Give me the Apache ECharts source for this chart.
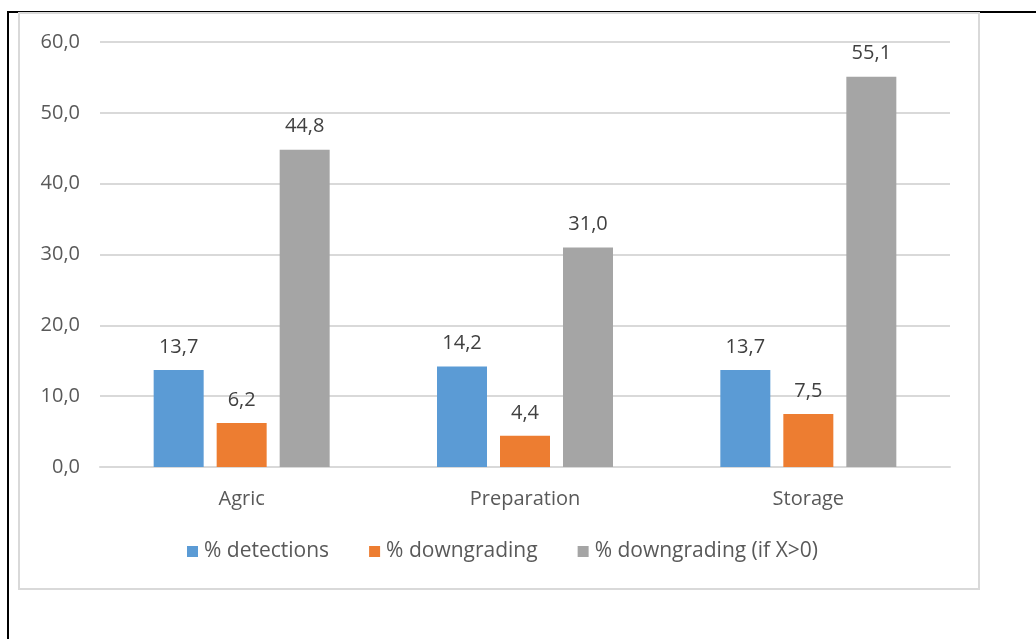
<!DOCTYPE html>
<html><head><meta charset="utf-8">
<script src="https://cdn.jsdelivr.net/npm/echarts@6/dist/echarts.min.js"></script>
<style>html,body{margin:0;padding:0;background:#fff}#c{width:1036px;height:639px}</style>
</head><body><div id="c"></div>
<script>
const categories = ['Agric', 'Preparation', 'Storage'];
const seriesNames = ['% detections', '% downgrading', '% downgrading (if X>0)'];
const detections = [13.7, 14.2, 13.7];
const downgrading = [6.2, 4.4, 7.5];
const downgradingIfX = [44.8, 31.0, 55.1];
const yTicks = [0, 10, 20, 30, 40, 50, 60];
const colors = ['#5B9BD5', '#ED7D31', '#A5A5A5'];

const fmt = v => Number(v).toFixed(1).replace('.', ',');
const font = 'Open Sans, Noto Sans, sans-serif';
const chart = echarts.init(document.getElementById('c'));
const mk = (name, data, i) => ({
  name, type: 'bar', data, barWidth: 50, barGap: '26%',
  itemStyle: { color: colors[i] },
  label: { show: true, position: 'top', distance: 13, color: '#404040', fontSize: 20, fontFamily: font, formatter: p => fmt(p.value) }
});
chart.setOption({
  animation: false,
  textStyle: { fontFamily: font },
  graphic: [
    { type: 'rect', shape: { x: 8, y: 11, width: 1028, height: 2 }, style: { fill: '#000' }, z: -1 },
    { type: 'rect', shape: { x: 7, y: 11, width: 2, height: 628 }, style: { fill: '#000' }, z: -1 },
    { type: 'rect', shape: { x: 19, y: 13, width: 960, height: 576 }, style: { fill: 'none', stroke: '#d9d9d9', lineWidth: 2 }, z: -1 }
  ],
  grid: { left: 100, right: 86, top: 42, bottom: 172, containLabel: false },
  legend: {
    top: 536, left: 182, itemWidth: 11, itemHeight: 11, itemGap: 40,
    icon: 'rect', data: seriesNames,
    textStyle: { color: '#595959', fontSize: 21, fontFamily: font, padding: [0, 0, 0, 1] }
  },
  xAxis: {
    type: 'category', data: categories,
    axisLine: { lineStyle: { color: '#d9d9d9', width: 2 } },
    axisTick: { show: false },
    axisLabel: { color: '#595959', fontSize: 20, margin: 22, fontFamily: font }
  },
  yAxis: {
    type: 'value', min: 0, max: 60, interval: 10,
    axisLine: { show: false }, axisTick: { show: false },
    splitLine: { lineStyle: { color: '#d9d9d9', width: 2 } },
    axisLabel: { color: '#595959', fontSize: 20, margin: 20, fontFamily: font, formatter: v => yTicks.includes(v) ? fmt(v) : '' }
  },
  series: [mk(seriesNames[0], detections, 0), mk(seriesNames[1], downgrading, 1), mk(seriesNames[2], downgradingIfX, 2)]
});
</script></body></html>
